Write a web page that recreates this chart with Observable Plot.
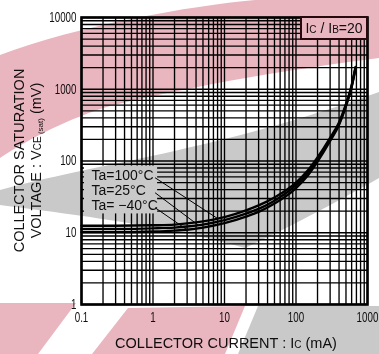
<!DOCTYPE html>
<html><head><meta charset="utf-8">
<script src="https://cdn.jsdelivr.net/npm/d3@7"></script>
<script src="https://cdn.jsdelivr.net/npm/@observablehq/plot@0.6"></script>
<style>
body{margin:0;background:#fff;}
#wrap{position:relative;width:379px;height:354px;overflow:hidden;}
#wm{position:absolute;left:0;top:0;pointer-events:none;mix-blend-mode:multiply;}
</style>
</head><body><div id="wrap"></div>
<script>
// ---- data ----
const currentMA = [0.1, 0.3, 1, 2, 3, 5, 10, 20, 30, 50, 100, 150, 200, 300, 400, 500, 600, 680];
const vce100 = [12.5, 12.5, 12.7, 13.0, 13.5, 14.4, 16.5, 20.5, 24, 31, 50, 76, 112, 210, 345, 620, 1130, 2050];
const vce25  = [11.3, 11.3, 11.5, 11.8, 12.2, 13.0, 15.0, 18.5, 21.5, 28, 46, 70, 105, 200, 330, 600, 1100, 2000];
const vceM40 = [10.2, 10.2, 10.4, 10.7, 11.0, 11.8, 13.6, 16.8, 19.5, 25.5, 42, 65, 98, 190, 320, 585, 1080, 1950];
const seriesNames = ["Ta=100°C", "Ta=25°C", "Ta= \u221240°C"];
const seriesValues = [vce100, vce25, vceM40];
const labelMV = [62.8, 38.8, 24.0];      // where each label sits (mV)
const leaderEndMA = [8.0, 4.3, 3.0];     // where each leader meets its curve (mA)
const xTicks = [0.1, 1, 10, 100, 1000];
const xTickLabels = ["0.1", "1", "10", "100", "1000"];
const yTicks = [1, 10, 100, 1000, 10000];
const yTickLabels = ["1", "10", "100", "1000", "10000"];

// ---- derived tables ----
const rows = [];
seriesNames.forEach((name, s) => currentMA.forEach((c, i) => rows.push({Ic: c, V: seriesValues[s][i], T: name})));
function logInterp(xs, ys, x) {
  for (let i = 0; i < xs.length - 1; i++) {
    if (x >= xs[i] && x <= xs[i + 1]) {
      const t = (Math.log(x) - Math.log(xs[i])) / (Math.log(xs[i + 1]) - Math.log(xs[i]));
      return Math.exp(Math.log(ys[i]) + t * (Math.log(ys[i + 1]) - Math.log(ys[i])));
    }
  }
  return ys[ys.length - 1];
}
const labels = seriesNames.map((n, s) => ({name: n, y: labelMV[s]}));
const leaders = seriesNames.map((n, s) => ({
  x1: 1.07, y1: labelMV[s] * 0.93,
  x2: leaderEndMA[s], y2: logInterp(currentMA, seriesValues[s], leaderEndMA[s])
}));
const grid = (lo, hi) => { const out = []; for (let d = lo; d < hi; d *= 10) for (let k = 1; k <= 9; k++) out.push(+(k * d).toPrecision(3)); out.push(hi); return out; };
const xGrid = grid(0.1, 1000);
const yGrid = grid(1, 10000);

const sans = "'Liberation Sans', Arial, Helvetica, sans-serif";
const tickFont = "'Liberation Sans', Arial, sans-serif";

function titles(index, scales, values, dims) {
  const g = d3.create("svg:g").attr("font-family", sans).attr("fill", "#111");
  const left = dims.marginLeft, right = dims.width - dims.marginRight;
  const top = dims.marginTop, bottom = dims.height - dims.marginBottom;
  // x title
  const xt = g.append("text").attr("x", (left + right) / 2 + 2).attr("y", bottom + 44)
    .attr("text-anchor", "middle").attr("font-size", 14.5);
  xt.append("tspan").text("COLLECTOR CURRENT : I");
  xt.append("tspan").attr("font-size", 10).text("C");
  xt.append("tspan").text(" (mA)");
  // y title (two lines)
  const cy = (top + bottom) / 2;
  const y1 = g.append("text").attr("transform", `translate(${left - 57},${cy}) rotate(-90)`)
    .attr("text-anchor", "middle").attr("font-size", 14.5);
  y1.text("COLLECTOR SATURATION");
  const y2 = g.append("text").attr("transform", `translate(${left - 40},${cy}) rotate(-90)`)
    .attr("text-anchor", "middle").attr("font-size", 14.5);
  y2.append("tspan").text("VOLTAGE : V");
  y2.append("tspan").attr("font-size", 10).text("CE");
  y2.append("tspan").attr("font-size", 8).attr("dy", 2).text(" (sat)");
  y2.append("tspan").attr("dy", -2).text(" (mV)");
  // condition box
  const bw = 66, bh = 22;
  g.append("rect").attr("x", right - bw).attr("y", top).attr("width", bw).attr("height", bh)
    .attr("fill", "white").attr("stroke", "#2a0a10").attr("stroke-width", 2);
  const lt = g.append("text").attr("x", right - bw / 2).attr("y", top + 16)
    .attr("text-anchor", "middle").attr("font-size", 14);
  lt.append("tspan").text("I");
  lt.append("tspan").attr("font-size", 10).text("C");
  lt.append("tspan").text(" / I");
  lt.append("tspan").attr("font-size", 10).text("B");
  lt.append("tspan").text("=20");
  return g.node();
}

const chart = Plot.plot({
  width: 379, height: 354,
  marginLeft: 81, marginRight: 12, marginTop: 17, marginBottom: 50,
  x: {type: "log", domain: [0.1, 1000], axis: null},
  y: {type: "log", domain: [1, 10000], axis: null},
  style: {background: "white", overflow: "visible"},
  marks: [
    Plot.ruleX(xGrid, {stroke: "#000", strokeWidth: 1.35}),
    Plot.ruleY(yGrid, {stroke: "#000", strokeWidth: 1.35}),
    Plot.rect([0], {x1: () => 0.11, x2: () => 1.16, y1: () => 18.3, y2: () => 85, fill: "white"}),
    Plot.line(rows, {x: "Ic", y: "V", z: "T", stroke: "#000", strokeWidth: 2.4, curve: "monotone-x"}),
    Plot.link(leaders, {x1: "x1", y1: "y1", x2: "x2", y2: "y2", stroke: "#000", strokeWidth: 1}),
    Plot.text(labels, {x: () => 0.138, y: "y", text: "name", textAnchor: "start", fontSize: 14, fontFamily: sans, fill: "#111"}),
    Plot.frame({stroke: "#000", strokeWidth: 2.6}),
    Plot.text(xTicks, {x: d => d, y: () => 1, text: (d, i) => xTickLabels[i], dy: 13, textAnchor: "middle", fontSize: 14, fontFamily: tickFont, fill: "#111", className: "tick-lbl"}),
    Plot.text(yTicks, {x: () => 0.1, y: d => d, text: (d, i) => yTickLabels[i], dx: -5, textAnchor: "end", fontSize: 14, fontFamily: tickFont, fill: "#111", className: "tick-lbl"}),
    titles
  ]
});
const wrap = document.getElementById("wrap");
wrap.appendChild(chart);
// the source uses a condensed face for tick numbers: squeeze horizontally about each anchor
d3.select(chart).selectAll(".tick-lbl text").each(function() {
  const t = this.getAttribute("transform") || "";
  this.setAttribute("transform", t + " scale(0.7,1)");
});

// background watermark of the source scan (decorative), multiplied over the chart
const wm = d3.select(wrap).append("svg").attr("id", "wm").attr("width", 379).attr("height", 354);
const pink = "#e9b6bf", grey = "#c9c9c9";
wm.append("path").attr("fill", pink).attr("d", "M0,55 C80,25 190,6 255,0 L379,0 L379,58 C300,68 200,84 110,106 C70,118 30,138 0,158 Z");
wm.append("path").attr("fill", grey).attr("d", "M0,190 C90,165 220,150 379,92 L379,178 C340,200 300,222 245,248 C190,232 120,220 0,205 Z");
wm.append("path").attr("fill", pink).attr("d", "M0,303 L76,303 L38,354 L0,354 Z");
wm.append("path").attr("fill", pink).attr("d", "M92,354 L128,308 L245,306 L225,354 Z");
wm.append("path").attr("fill", grey).attr("d", "M238,354 L258,306 L379,306 L379,354 Z");
</script>
</body></html>
